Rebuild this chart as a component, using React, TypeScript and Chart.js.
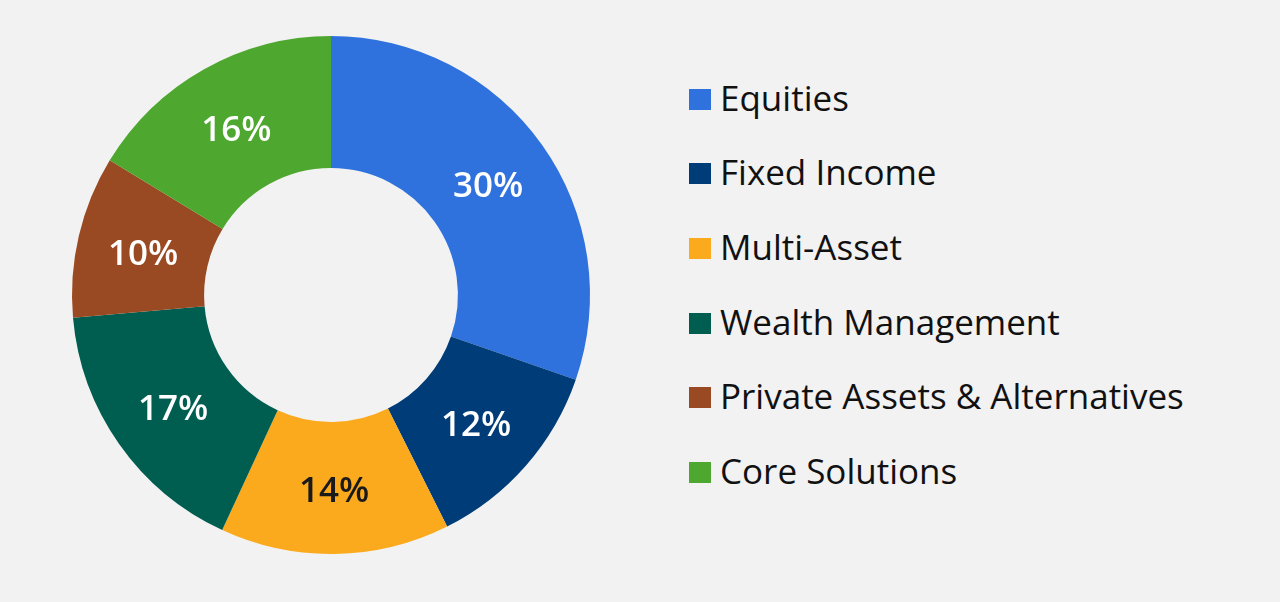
import { useEffect, useRef } from 'react'
import { Chart, registerables, type Plugin } from 'chart.js'

Chart.register(...registerables)

const categories = ['Equities', 'Fixed Income', 'Multi-Asset', 'Wealth Management', 'Private Assets & Alternatives', 'Core Solutions']
const shares = [30.3, 12.3, 14.3, 16.7, 10.1, 16.3]
const shareLabels = ['30%', '12%', '14%', '17%', '10%', '16%']
const colors = ['#2F72DE', '#003C77', '#FBAA1E', '#005E51', '#994A22', '#4EA72E']
const labelColors = ['#fff', '#fff', '#1a1a1a', '#fff', '#fff', '#fff']

const FONT = '"Open Sans", "Noto Sans", sans-serif'

const sliceLabels: Plugin<'doughnut'> = {
  id: 'sliceLabels',
  afterDatasetsDraw(chart) {
    const { ctx } = chart
    const arcs = chart.getDatasetMeta(0).data
    ctx.save()
    ctx.font = `600 35px ${FONT}`
    ctx.textAlign = 'center'
    ctx.textBaseline = 'middle'
    arcs.forEach((arc, i) => {
      const p = arc.tooltipPosition(false)
      ctx.fillStyle = labelColors[i]
      ctx.fillText(shareLabels[i], p.x, p.y + 4)
    })
    ctx.restore()
  },
}

export default function App() {
  const ref = useRef<HTMLCanvasElement>(null)
  const chart = useRef<Chart<'doughnut'> | null>(null)

  useEffect(() => {
    document.body.style.margin = '0'
    if (!ref.current) return
    chart.current?.destroy()
    chart.current = new Chart(ref.current, {
      type: 'doughnut',
      data: {
        labels: categories,
        datasets: [
          {
            data: shares,
            backgroundColor: colors,
            borderWidth: 0,
          },
        ],
      },
      options: {
        animation: false,
        responsive: true,
        maintainAspectRatio: false,
        cutout: '49%',
        layout: { padding: { top: 36, bottom: 48 } },
        plugins: { legend: { display: false }, tooltip: { enabled: false } },
      },
      plugins: [sliceLabels],
    })
    return () => chart.current?.destroy()
  }, [])

  return (
    <div style={{ position: 'relative', width: 1280, height: 602, background: '#F2F2F2', fontFamily: FONT, overflow: 'hidden' }}>
      <div style={{ position: 'absolute', left: 0, top: 0, width: 662, height: 602 }}>
        <canvas ref={ref} role="img" aria-label="Asset class breakdown" />
      </div>
      <div style={{ position: 'absolute', left: 689, top: 60 }}>
        {categories.map((c, i) => (
          <div key={c} style={{ display: 'flex', alignItems: 'center', height: 74.6 }}>
            <span style={{ width: 22, height: 21, background: colors[i], marginRight: 9, marginTop: 4 }} />
            <span style={{ fontSize: 35, color: '#111', lineHeight: 1, whiteSpace: 'nowrap' }}>{c}</span>
          </div>
        ))}
      </div>
    </div>
  )
}
